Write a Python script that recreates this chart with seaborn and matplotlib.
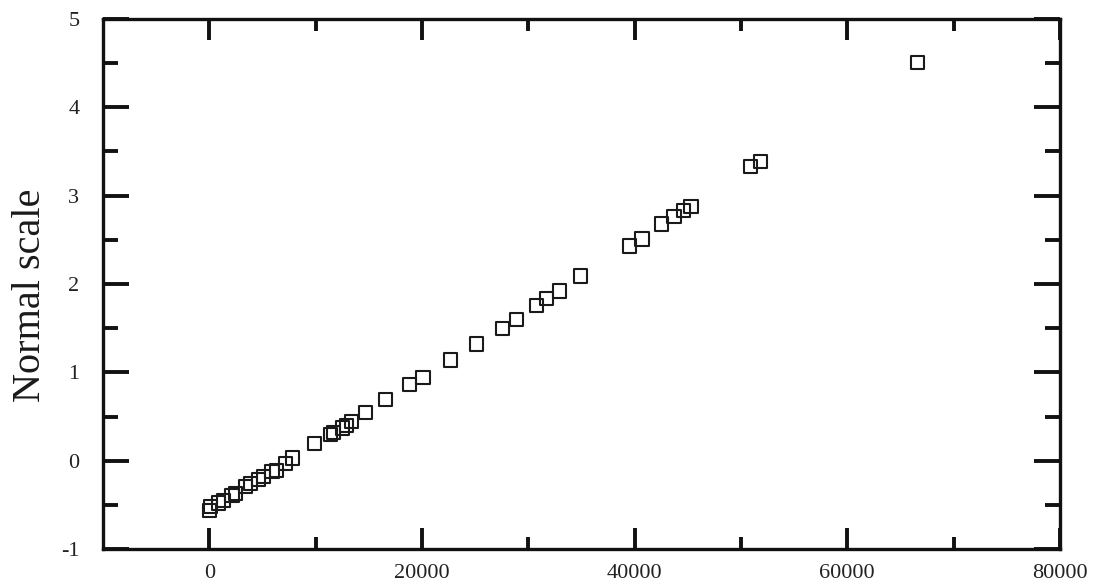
import matplotlib
matplotlib.use("Agg")
import matplotlib.pyplot as plt
import seaborn as sns
import numpy as np
import pandas as pd
from matplotlib.ticker import MultipleLocator, FixedLocator

# Data
x_values = [0, 100, 880, 1350, 2140, 2450, 3400, 3850, 4600, 5100, 5900, 6300,
            7200, 7800, 9900, 11400, 11700, 12500, 12900, 13400, 14700, 16600,
            18800, 20100, 22700, 25100, 27600, 28900, 30800, 31700, 32900,
            34900, 39500, 40700, 42500, 43700, 44600, 45300, 50900, 51800, 66600]
y_values = [-0.56, -0.52, -0.48, -0.45, -0.39, -0.37, -0.29, -0.26, -0.21, -0.18,
            -0.12, -0.11, -0.03, 0.03, 0.19, 0.30, 0.32, 0.37, 0.40, 0.44, 0.55,
            0.69, 0.86, 0.94, 1.14, 1.32, 1.50, 1.60, 1.76, 1.84, 1.92,
            2.09, 2.43, 2.51, 2.68, 2.76, 2.83, 2.88, 3.33, 3.39, 4.51]
x_major_ticks = [0, 20000, 40000, 60000, 80000]
x_minor_ticks = [10000, 30000, 50000, 70000]
x_tick_labels = ["0", "20000", "40000", "60000", "80000"]
y_major_ticks = [-1, 0, 1, 2, 3, 4, 5]
y_tick_labels = ["-1", "0", "1", "2", "3", "4", "5"]
y_label = "Normal scale"

df = pd.DataFrame({"x": x_values, "y": y_values})

sns.set_theme(style="white")
plt.rcParams["font.family"] = ["Liberation Serif", "DejaVu Serif"]

fig = plt.figure(figsize=(10.95, 5.87), dpi=100)
ax = fig.add_axes([0.094, 0.0647, 0.874, 0.903])

sns.scatterplot(data=df, x="x", y="y", ax=ax, marker="s", s=90,
                color="black", linewidth=1.5, zorder=3)
for coll in ax.collections:
    coll.set_facecolor("none")
    coll.set_edgecolor("#1a1a1a")
    coll.set_linewidth(1.5)

ax.set_xlim(-10000, 80000)
ax.set_ylim(-1, 5)
ax.set_xticks(x_major_ticks)
ax.set_xticklabels(x_tick_labels)
ax.xaxis.set_minor_locator(FixedLocator(x_minor_ticks))
ax.set_yticks(y_major_ticks)
ax.set_yticklabels(y_tick_labels)
ax.yaxis.set_minor_locator(MultipleLocator(0.5))

ax.set_xlabel("")
ax.set_ylabel(y_label, fontsize=29, color="#1a1a1a")
ax.yaxis.set_label_coords(-0.056, 0.479)

for sp in ax.spines.values():
    sp.set_linewidth(2.4)
    sp.set_color("#111111")

ax.tick_params(axis="x", which="major", direction="in", length=15, width=2.8,
               top=True, bottom=True, labelsize=16, pad=11, colors="#111111",
               labelcolor="#222222")
ax.tick_params(axis="x", which="minor", direction="in", length=8.6, width=2.8,
               top=True, bottom=True, colors="#111111")
ax.tick_params(axis="y", which="major", direction="in", length=18.5, width=2.8,
               left=True, right=True, labelsize=16, pad=17, colors="#111111",
               labelcolor="#222222")
ax.tick_params(axis="y", which="minor", direction="in", length=10.5, width=2.8,
               left=True, right=True, colors="#111111")
ax.grid(False)

fig.savefig("out.png", dpi=100)
